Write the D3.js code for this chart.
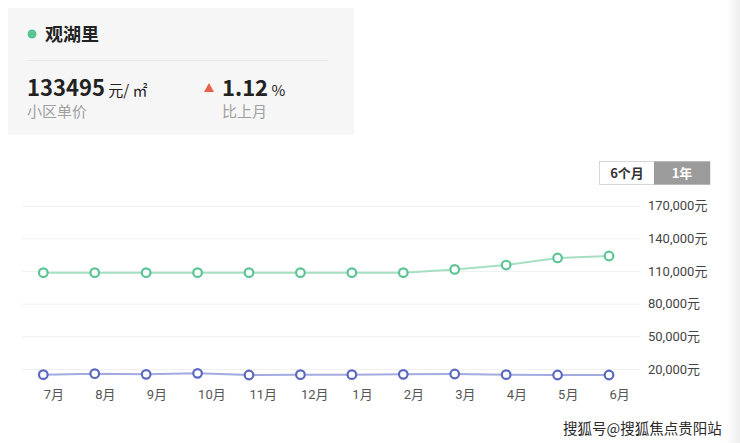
<!DOCTYPE html>
<html>
<head>
<meta charset="utf-8">
<script src="https://cdn.jsdelivr.net/npm/d3@7"></script>
<style>
  body { margin: 0; background: #fff; }
  svg { display: block; font-family: "Noto Sans CJK SC", "Noto Sans", sans-serif; }
</style>
</head>
<body>
<div id="wrapper"></div>
<script>
const months = ["7月", "8月", "9月", "10月", "11月", "12月", "1月", "2月", "3月", "4月", "5月", "6月"]
const communityPrice = [108500, 108500, 108500, 108500, 108500, 108500, 108500, 108500, 111500, 115500, 122000, 123800]
const districtPrice = [14800, 15700, 15100, 16000, 14500, 14800, 14800, 15100, 15400, 14800, 14500, 14500]
const yTicks = [20000, 50000, 80000, 110000, 140000, 170000]
const periods = ["6个月", "1年"]

function drawChart() {
  const width = 740
  const height = 443

  const dimensions = {
    gridLeft: 22,
    gridRight: 640,
    firstX: 43.3,
    lastX: 609,
    top: 205.7,
    bottom: 369,
  }

  const svg = d3
    .select("#wrapper")
    .append("svg")
    .attr("width", width)
    .attr("height", height)

  // faint shadow on the right edge
  const defs = svg.append("defs")
  const grad = defs.append("linearGradient").attr("id", "edge")
  grad.append("stop").attr("offset", "0").attr("stop-color", "#fff")
  grad.append("stop").attr("offset", "1").attr("stop-color", "#eeeeee")
  svg.append("rect")
    .attr("x", 726).attr("y", 0).attr("width", 14).attr("height", height)
    .attr("fill", "url(#edge)")

  // 1. Summary card
  const card = svg.append("g")
  card.append("rect")
    .attr("x", 8).attr("y", 8).attr("width", 346).attr("height", 127)
    .attr("fill", "#f6f6f6")
  card.append("circle").attr("cx", 32).attr("cy", 34).attr("r", 4.5).attr("fill", "#5bc493")
  card.append("text").text("观湖里")
    .attr("x", 45).attr("y", 40.5)
    .style("font-size", "18px").style("font-weight", "bold").style("fill", "#222")
  card.append("line")
    .attr("x1", 27).attr("x2", 328).attr("y1", 60.5).attr("y2", 60.5)
    .style("stroke", "#e8e8e8")

  const price = card.append("text").attr("x", 27).attr("y", 96)
  price.append("tspan").text("133495")
    .style("font-size", "22px").style("font-weight", "bold").style("fill", "#222")
  price.append("tspan").text(" 元/ ㎡")
    .style("font-size", "15px").style("fill", "#222")
  card.append("text").text("小区单价")
    .attr("x", 27).attr("y", 117)
    .style("font-size", "15px").style("fill", "#a0a0a0")

  card.append("path")
    .attr("d", "M204,92 L209,83 L214,92 Z")
    .attr("fill", "#e8614a")
  const change = card.append("text").attr("x", 222).attr("y", 96)
  change.append("tspan").text("1.12")
    .style("font-size", "22px").style("font-weight", "bold").style("fill", "#222")
  change.append("tspan").text(" %")
    .style("font-size", "15px").style("fill", "#222")
  card.append("text").text("比上月")
    .attr("x", 222).attr("y", 117)
    .style("font-size", "15px").style("fill", "#a0a0a0")

  // 2. Period toggle
  const toggle = svg.append("g")
  toggle.append("rect")
    .attr("x", 599.5).attr("y", 161.5).attr("width", 110.5).attr("height", 23)
    .attr("fill", "#fff").attr("stroke", "#d6d6d6")
  toggle.append("rect")
    .attr("x", 654).attr("y", 161.5).attr("width", 56).attr("height", 23)
    .attr("fill", "#9b9b9b")
  toggle.selectAll("text.period")
    .data(periods)
    .join("text")
    .attr("class", "period")
    .text((d) => d)
    .attr("x", (d, i) => (i === 0 ? 627 : 682))
    .attr("y", 178)
    .attr("text-anchor", "middle")
    .style("font-size", "13px")
    .style("font-weight", "bold")
    .style("fill", (d, i) => (i === 0 ? "#333" : "#fff"))

  // 3. Scales
  const xScale = d3.scalePoint()
    .domain(months)
    .range([dimensions.firstX, dimensions.lastX])

  const yScale = d3.scaleLinear()
    .domain([20000, 170000])
    .range([dimensions.bottom, dimensions.top])

  // 4. Grid + y axis
  const yAxisGenerator = d3.axisRight(yScale)
    .tickValues(yTicks)
    .tickSize(dimensions.gridRight - dimensions.gridLeft)
    .tickPadding(8)
    .tickFormat((d) => d3.format(",")(d) + "元")

  const yAxis = svg.append("g")
    .attr("transform", `translate(${dimensions.gridLeft},0)`)
    .call(yAxisGenerator)
  yAxis.select(".domain").remove()
  yAxis.selectAll(".tick line").style("stroke", "#f0f0f0")
  yAxis.selectAll(".tick text")
    .style("font-size", "13px")
    .style("fill", "#444")
    .style("font-family", "Roboto, 'Noto Sans CJK SC', sans-serif")

  // 5. x axis labels
  const xAxisGenerator = d3.axisBottom(xScale).tickSize(0).tickPadding(0)
  const xAxis = svg.append("g")
    .attr("transform", "translate(0,390)")
    .call(xAxisGenerator)
  xAxis.select(".domain").remove()
  xAxis.selectAll(".tick text")
    .attr("text-anchor", "start")
    .attr("dy", "0.71em")
    .style("font-size", "13px")
    .style("fill", "#555")
    .style("font-family", "Roboto, 'Noto Sans CJK SC', sans-serif")

  // 6. Lines
  const series = [
    { values: communityPrice, line: "#a6dfc3", mark: "#5bc493" },
    { values: districtPrice, line: "#a3aadf", mark: "#5a69bf" },
  ]

  const lineGenerator = d3.line()
    .x((d, i) => xScale(months[i]))
    .y((d) => yScale(d))

  series.forEach((s) => {
    svg.append("path")
      .attr("d", lineGenerator(s.values))
      .attr("fill", "none")
      .attr("stroke", s.line)
      .attr("stroke-width", 2)

    svg.append("g")
      .selectAll("circle")
      .data(s.values)
      .join("circle")
      .attr("cx", (d, i) => xScale(months[i]))
      .attr("cy", (d) => yScale(d))
      .attr("r", 4.3)
      .attr("fill", "#fff")
      .attr("stroke", s.mark)
      .attr("stroke-width", 2.2)
  })

  // 7. Watermark
  svg.append("text")
    .text("搜狐号@搜狐焦点贵阳站")
    .attr("x", 563).attr("y", 434)
    .style("font-size", "14.5px")
    .style("fill", "#2a2a2a")
    .style("stroke", "#fff")
    .style("stroke-width", 2.5)
    .style("paint-order", "stroke")
}

drawChart()
</script>
</body>
</html>
